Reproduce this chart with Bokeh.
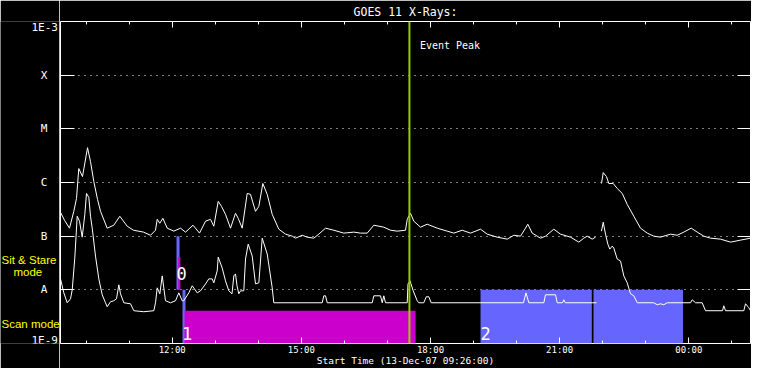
from bokeh.plotting import figure
from bokeh.layouts import row
from bokeh.models import Range1d, FixedTicker, LinearAxis, LogAxis, Label, Span, ColumnDataSource
from bokeh.embed import file_html
from bokeh.resources import INLINE

NAN = float("nan")

# ---------------- data ----------------
title_text = "GOES 11 X-Rays:"
start_label = "Start Time (13-Dec-07 09:26:00)"
x_start, x_end = 9.405, 25.433          # hours of 13-Dec-07
hour_ticks = [12, 15, 18, 21, 24]
hour_labels = ["12:00", "15:00", "18:00", "21:00", "00:00"]
hour_minor = [10, 11, 13, 14, 16, 17, 19, 20, 22, 23, 25]
flux_min, flux_max = 1e-9, 1e-3
flux_ticks = [1e-8, 1e-7, 1e-6, 1e-5, 1e-4]
class_labels = ["A", "B", "C", "M", "X"]
end_labels = ["1E-9", "1E-3"]

# GOES long channel (1-8 A)
long_time = [9.405, 9.498, 9.614, 9.714, 9.777, 9.830, 9.916, 10.033, 10.102, 10.179,
             10.265, 10.335, 10.490, 10.643, 10.783, 10.955, 11.101, 11.333, 11.496, 11.612,
             11.652, 11.712, 11.782, 11.884, 12.037, 12.193, 12.309, 12.483, 12.634, 12.774,
             12.890, 12.966, 13.069, 13.145, 13.238, 13.354, 13.470, 13.533, 13.626, 13.742,
             13.819, 13.935, 14.012, 14.105, 14.207, 14.323, 14.476, 14.632, 14.788, 14.864,
             15.020, 15.136, 15.289, 15.405, 15.561, 15.754, 15.986, 16.218, 16.374, 16.530,
             16.683, 16.915, 17.071, 17.227, 17.419, 17.459, 17.535, 17.612, 17.768, 17.923,
             18.156, 18.388, 18.541, 18.736, 18.929, 19.162, 19.317, 19.549, 19.782, 19.935,
             20.091, 20.207, 20.260, 20.362, 20.555, 20.671, 20.864, 21.020, 21.252, 21.445,
             21.561, 21.640, 21.756, 21.833, NAN,
             21.972, 22.012, 22.088, 22.142, 22.244, 22.337, 22.453, 22.569, 22.723, 22.878,
             23.034, 23.187, 23.343, 23.575, 23.731, 23.884, 24.056, 24.195, 24.349, 24.504,
             24.737, 24.969, 25.201, 25.433]
long_flux = [2.78e-7, 1.98e-7, 1.41e-7, 2.90e-7, 5.05e-7, 1.82e-6, 1.29e-6, 4.45e-6, 2.45e-6, 1.04e-6,
             4.84e-7, 2.90e-7, 1.41e-7, 1.60e-7, 2.35e-7, 1.53e-7, 1.29e-7, 1.19e-7, 1.04e-7, 1.29e-7,
             2.06e-7, 1.74e-7, 2.15e-7, 1.41e-7, 1.24e-7, 1.41e-7, 1.19e-7, 1.60e-7, 1.14e-7, 1.90e-7,
             2.06e-7, 1.53e-7, 4.45e-7, 3.59e-7, 2.55e-7, 1.41e-7, 2.67e-7, 2.15e-7, 1.41e-7, 6.26e-7,
             6.00e-7, 2.90e-7, 3.59e-7, 9.58e-7, 6.00e-7, 2.55e-7, 1.35e-7, 1.09e-7, 1.00e-7, 9.18e-8,
             1.04e-7, 9.58e-8, 9.18e-8, 1.09e-7, 1.41e-7, 1.29e-7, 1.14e-7, 1.19e-7, 1.14e-7, 1.14e-7,
             1.60e-7, 1.47e-7, 1.29e-7, 1.24e-7, 1.29e-7, 2.06e-7, 2.67e-7, 1.90e-7, 1.47e-7, 1.67e-7,
             1.41e-7, 1.24e-7, 1.14e-7, 1.29e-7, 1.14e-7, 1.35e-7, 1.09e-7, 9.58e-8, 8.80e-8, 1.04e-7,
             1.00e-7, 1.41e-7, 1.67e-7, 1.14e-7, 9.18e-8, 1.00e-7, 1.35e-7, 1.09e-7, 9.58e-8, 7.74e-8,
             9.18e-8, 1.00e-7, 8.80e-8, 9.58e-8, NAN,
             9.58e-7, 1.53e-6, 1.29e-6, 9.58e-7, 9.58e-7, 7.74e-7, 6.26e-7, 3.91e-7, 2.35e-7, 1.41e-7,
             1.14e-7, 1.00e-7, 9.58e-8, 1.09e-7, 1.04e-7, 1.19e-7, 1.41e-7, 1.19e-7, 1.00e-7, 9.18e-8,
             8.80e-8, 7.74e-8, 8.43e-8, 9.18e-8]

# GOES short channel (0.5-4 A)
short_time = [9.405, 9.482, 9.561, 9.638, 9.677, 9.737, 9.793, 9.847, 9.909, 9.970,
              10.009, 10.063, 10.102, 10.142, 10.218, 10.295, 10.374, 10.451, 10.490, 10.567,
              10.643, 10.706, 10.760, 10.799, 10.876, 11.031, 11.108, 11.340, 11.573, 11.612,
              11.652, 11.712, 11.768, 11.844, 11.961, 12.077, 12.153, 12.232, 12.269, 12.386,
              12.465, 12.581, 12.657, 12.774, 12.850, 12.929, 12.966, 13.045, 13.069, 13.161,
              13.238, 13.315, 13.389, 13.431, 13.470, 13.505, 13.547, 13.587, 13.663, 13.703,
              13.765, 13.858, 13.935, 14.012, 14.091, 14.207, 14.323, 14.360, 15.484, 15.522,
              15.561, 15.601, 16.646, 16.683, 16.839, 16.878, 16.915, 16.955, 17.459, 17.477,
              17.524, 17.598, 17.691, 17.728, 17.844, 17.900, 17.961, 18.016, 20.160, 20.218,
              20.284, 20.632, 20.671, 20.904, 20.943, 21.066, 21.097, 21.129, 21.856, NAN,
              21.972, 22.012, 22.065, 22.119, 22.165, 22.221, 22.258, 22.337, 22.414, 22.490,
              22.569, 22.646, 22.723, 22.802, 23.187, 23.266, 23.343, 23.419, 23.498, 24.040,
              24.079, 24.156, 24.311, 24.388, 24.783, 24.813, 24.853, 25.278, 25.317, 25.394,
              25.433]
short_flux = [1.60e-8, 8.80e-9, 5.74e-9, 6.81e-9, 1.00e-8, 3.91e-8, 2.35e-7, 1.90e-7, 9.58e-8, 2.55e-7,
              6.26e-7, 5.27e-7, 2.35e-7, 1.41e-7, 4.26e-8, 1.60e-8, 8.08e-9, 5.74e-9, 4.84e-9, 6.00e-9,
              6.26e-9, 6.81e-9, 1.24e-8, 8.43e-9, 5.74e-9, 5.50e-9, 4.08e-9, 3.91e-9, 4.08e-9, 5.74e-9,
              1.09e-8, 8.43e-9, 1.82e-8, 6.26e-9, 5.74e-9, 6.26e-9, 8.80e-9, 6.26e-9, 6.26e-9, 8.80e-9,
              1.19e-8, 8.80e-9, 9.58e-9, 1.29e-8, 1.60e-8, 1.60e-8, 1.35e-8, 2.25e-8, 4.08e-8, 2.55e-8,
              1.47e-8, 9.58e-9, 8.43e-9, 1.82e-8, 1.98e-8, 1.19e-8, 8.43e-9, 9.58e-9, 9.58e-9, 3.75e-8,
              7.11e-8, 4.26e-8, 1.29e-8, 1.35e-8, 9.18e-8, 4.64e-8, 1.09e-8, 5.74e-9, 5.74e-9, 7.74e-9,
              7.74e-9, 5.74e-9, 5.74e-9, 7.74e-9, 7.74e-9, 5.74e-9, 7.74e-9, 5.74e-9, 5.74e-9, 1.29e-8,
              1.47e-8, 9.58e-9, 6.26e-9, 5.74e-9, 5.74e-9, 7.42e-9, 7.42e-9, 5.74e-9, 5.74e-9, 8.80e-9,
              5.74e-9, 5.74e-9, 8.08e-9, 8.08e-9, 5.74e-9, 5.74e-9, 6.53e-9, 5.74e-9, 5.74e-9, NAN,
              1.24e-7, 1.82e-7, 1.09e-7, 7.11e-8, 5.74e-8, 6.53e-8, 6.00e-8, 3.75e-8, 3.44e-8, 1.82e-8,
              1.35e-8, 8.43e-9, 7.74e-9, 5.74e-9, 5.74e-9, 5.27e-9, 5.50e-9, 5.27e-9, 5.74e-9, 5.74e-9,
              6.53e-9, 5.74e-9, 5.74e-9, 4.08e-9, 4.08e-9, 5.05e-9, 4.08e-9, 4.08e-9, 5.50e-9, 4.64e-9,
              4.08e-9]

# instrument mode bars (Sit & Stare row: A..B, Scan row: 1E-9..A)
mode_left = [12.100, 12.140, 12.239, 12.286, 19.162, 21.786]
mode_right = [12.170, 12.190, 12.309, 17.652, 21.747, 23.865]
mode_bottom = [1e-8, 1e-8, 1e-9, 1e-9, 1e-9, 1e-9]
mode_top = [1e-7, 4.08e-8, 1e-8, 4.08e-9, 1e-8, 1e-8]
mode_color = ["#6666ff", "#cc00cc", "#6666ff", "#cc00cc", "#6666ff", "#6666ff"]

obs_ids = ["0", "1", "2"]
obs_time = [12.100, 12.239, 19.162]
obs_flux = [1e-8, 1e-9, 1e-9]

event_peak = 17.51
event_text = "Event Peak"
mode_names = ["Sit & Stare", "mode", "Scan mode"]

MONO = "DejaVu Sans Mono"
SANS = "Liberation Sans"
H = 368
W_LEFT = 59
W_MAIN = 692

# ---------------- main figure ----------------
p = figure(width=W_MAIN, height=H, output_backend="svg", toolbar_location=None,
           x_range=Range1d(x_start, x_end), y_range=Range1d(flux_min, flux_max),
           y_axis_type="log",
           min_border_left=1, min_border_right=1, min_border_top=19, min_border_bottom=25,
           background_fill_color="black", border_fill_color="black",
           outline_line_color="white", outline_line_width=1)

p.title.text = title_text
p.title.align = "center"
p.title.text_color = "white"
p.title.text_font = MONO
p.title.text_font_size = "11.5px"
p.title.text_font_style = "normal"
p.title.standoff = 5

src = ColumnDataSource(dict(left=mode_left, right=mode_right, bottom=mode_bottom,
                            top=mode_top, color=mode_color))
p.quad(left="left", right="right", bottom="bottom", top="top", fill_color="color",
       line_color=None, source=src)

p.line(long_time, long_flux, line_color="white", line_width=1)
p.line(short_time, short_flux, line_color="white", line_width=1)

p.add_layout(Span(location=event_peak, dimension="height", line_color="#99cc00", line_width=2))

p.xgrid.visible = False
p.ygrid.ticker = FixedTicker(ticks=flux_ticks)
p.ygrid.grid_line_color = "white"
p.ygrid.grid_line_dash = "1 5"
p.ygrid.grid_line_width = 1


def style_axis(ax, major_in, minor_in):
    ax.axis_line_color = None
    ax.major_tick_in = major_in
    ax.major_tick_out = 0
    ax.minor_tick_in = minor_in
    ax.minor_tick_out = 0
    ax.major_tick_line_color = "white"
    ax.minor_tick_line_color = "white" if minor_in else None


xa = p.xaxis[0]
xa.ticker = FixedTicker(ticks=hour_ticks, minor_ticks=hour_minor)
xa.major_label_overrides = dict(zip(hour_ticks, hour_labels))
style_axis(xa, 6, 3)
xa.major_label_text_color = "white"
xa.major_label_text_font = MONO
xa.major_label_text_font_size = "9px"
xa.major_label_standoff = 1
xa.axis_label = start_label
xa.axis_label_text_color = "white"
xa.axis_label_text_font = MONO
xa.axis_label_text_font_size = "9.5px"
xa.axis_label_text_font_style = "normal"
xa.axis_label_standoff = -3

ta = LinearAxis(ticker=FixedTicker(ticks=hour_ticks, minor_ticks=hour_minor),
                major_label_overrides={t: "" for t in hour_ticks},
                major_label_text_font_size="0px", major_label_standoff=0)
style_axis(ta, 6, 3)
p.add_layout(ta, "above")

ya = p.yaxis[0]
ya.ticker = FixedTicker(ticks=flux_ticks)
ya.major_label_overrides = {t: "" for t in flux_ticks}
ya.major_label_text_font_size = "0px"
ya.major_label_standoff = 0
style_axis(ya, 14, 0)

ra = LogAxis(ticker=FixedTicker(ticks=flux_ticks),
             major_label_overrides={t: "" for t in flux_ticks},
             major_label_text_font_size="0px", major_label_standoff=0)
style_axis(ra, 13, 0)
p.add_layout(ra, "right")


def lab(fig, x, y, text, xo, yo, color="white", size="11px", align="center", font=MONO):
    fig.add_layout(Label(x=x, y=y, text=text, x_offset=xo, y_offset=yo, text_color=color,
                         text_font=font, text_font_size=size, text_align=align,
                         text_baseline="middle"))


lab(p, event_peak, flux_max, event_text, 10.5, -23.5, size="10px", align="left")
for t, f, s, xo, yo in zip(obs_time, obs_flux, obs_ids, [5, 4.5, 5], [16.5, 10, 10]):
    lab(p, t, f, s, xo, yo, size="17px")

# ---------------- left label strip (shares the flux scale) ----------------
lf = figure(width=W_LEFT, height=H, output_backend="svg", toolbar_location=None,
            x_range=Range1d(0, W_LEFT), y_range=p.y_range, y_axis_type="log",
            x_axis_location=None, y_axis_location=None,
            min_border_left=0, min_border_right=0, min_border_top=19, min_border_bottom=25,
            background_fill_color="black", border_fill_color="black", outline_line_color=None)
lf.grid.visible = False

for f, t in zip(flux_ticks, class_labels):
    lab(lf, 43.5, f, t, 0, 0)
lab(lf, 31, flux_min, end_labels[0], 0, 3.5, align="left")
lab(lf, 31, flux_max, end_labels[1], 0, -5.5, align="left")

lab(lf, 1, 1e-8, mode_names[0], 0, 30, color="#ffff00", size="11.5px", align="left", font=SANS)
lab(lf, 13, 1e-8, mode_names[1], 0, 18, color="#ffff00", size="11.5px", align="left", font=SANS)
lab(lf, 1, 1e-9, mode_names[2], 0, 19.5, color="#ffff00", size="11.5px", align="left", font=SANS)

layout = row(lf, p)
open("out.html", "w").write(file_html(layout, INLINE))
